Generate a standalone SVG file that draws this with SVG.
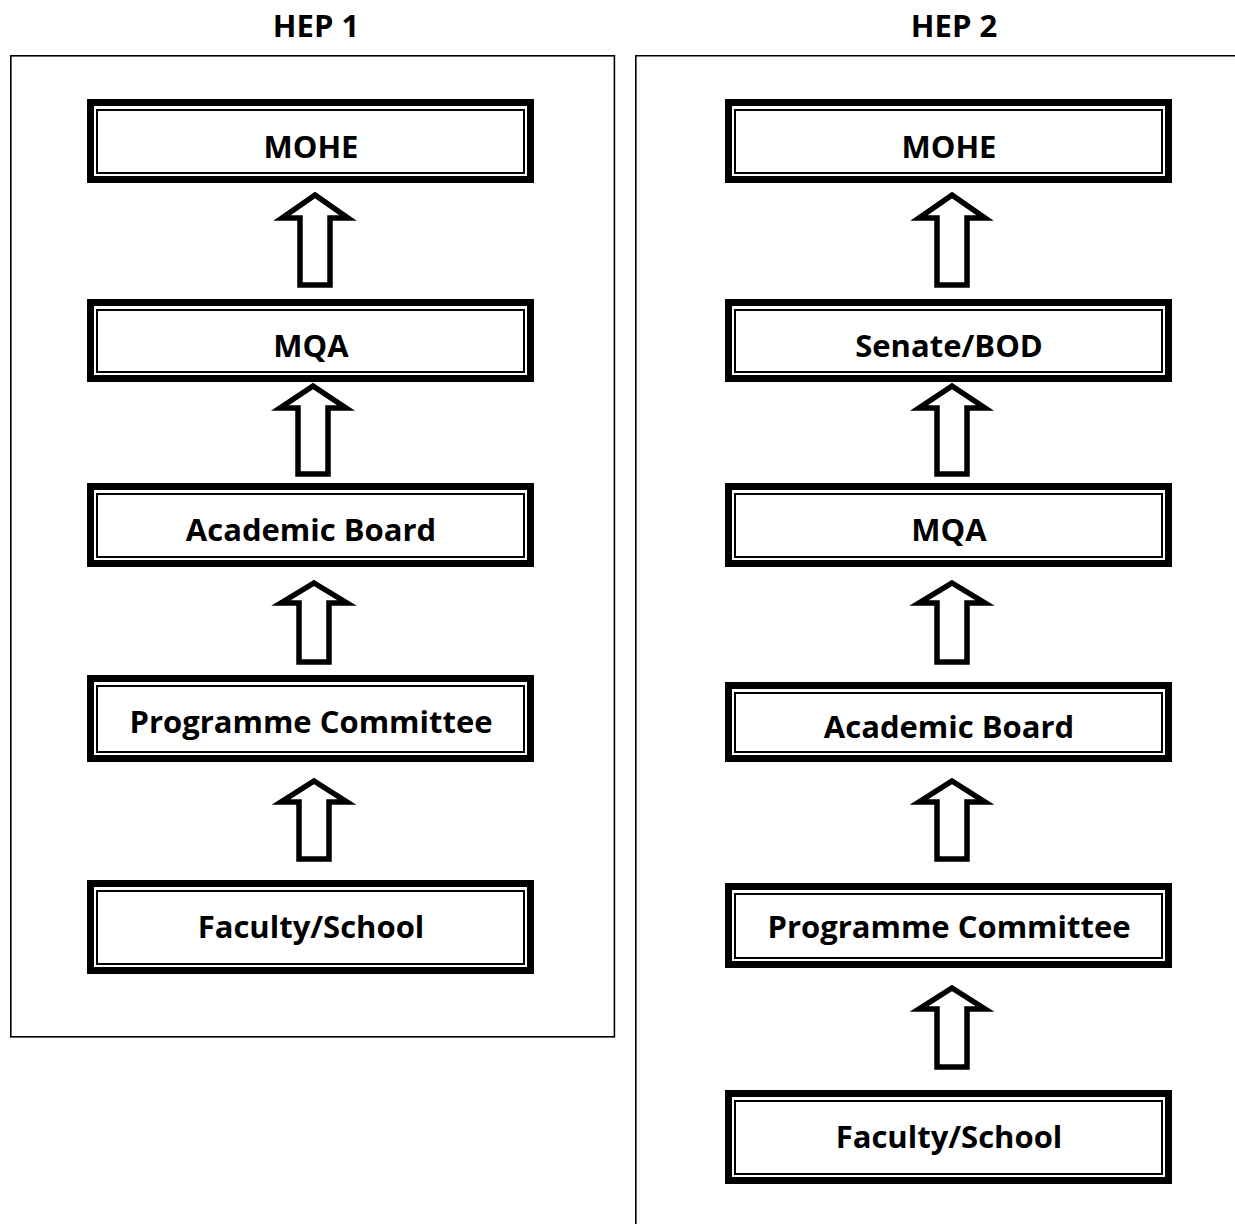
<svg xmlns="http://www.w3.org/2000/svg" width="1235" height="1224" viewBox="0 0 1235 1224">
<style>
.bg{fill:#fff}
.panel{fill:none;stroke:#000;stroke-width:1.6}
.outer{fill:#fff;stroke:#000;stroke-width:7}
.inner{fill:none;stroke:#000;stroke-width:2}
.lbl{font-family:"Open Sans","Liberation Sans",sans-serif;font-weight:700;font-size:31px;fill:#000;text-anchor:middle}
.arrow{fill:#fff;stroke:#000;stroke-width:5.5;stroke-linejoin:miter}
</style>
<rect class="bg" x="0" y="0" width="1235" height="1224"/>
<g id="panels">
<rect class="panel" x="10.8" y="55.8" width="603.6" height="981"/>
<path class="panel" d="M1235 55.8 H635.8 V1224"/>
<text class="lbl" x="316" y="37">HEP 1</text>
<text class="lbl" x="954" y="37">HEP 2</text>
</g>
<g id="hep1-mohe"><rect class="outer" x="90.5" y="102.5" width="440" height="77"/><rect class="inner" x="97" y="110" width="427" height="63"/><text class="lbl" x="311" y="158">MOHE</text></g>
<g id="hep1-mqa"><rect class="outer" x="90.5" y="302.5" width="440" height="76"/><rect class="inner" x="97" y="310" width="427" height="62"/><text class="lbl" x="311" y="357">MQA</text></g>
<g id="hep1-ab"><rect class="outer" x="90.5" y="486.5" width="440" height="77"/><rect class="inner" x="97" y="494" width="427" height="63"/><text class="lbl" x="311" y="541">Academic Board</text></g>
<g id="hep1-pc"><rect class="outer" x="90.5" y="678.5" width="440" height="80"/><rect class="inner" x="97" y="686" width="427" height="66"/><text class="lbl" x="311" y="733">Programme Committee</text></g>
<g id="hep1-fs"><rect class="outer" x="90.5" y="883.5" width="440" height="87"/><rect class="inner" x="97" y="891" width="427" height="73"/><text class="lbl" x="311" y="938">Faculty/School</text></g>
<g id="hep2-mohe"><rect class="outer" x="728.5" y="102.5" width="440" height="77"/><rect class="inner" x="735" y="110" width="427" height="63"/><text class="lbl" x="949" y="158">MOHE</text></g>
<g id="hep2-senate"><rect class="outer" x="728.5" y="302.5" width="440" height="76"/><rect class="inner" x="735" y="310" width="427" height="62"/><text class="lbl" x="949" y="357">Senate/BOD</text></g>
<g id="hep2-mqa"><rect class="outer" x="728.5" y="486.5" width="440" height="77"/><rect class="inner" x="735" y="494" width="427" height="63"/><text class="lbl" x="949" y="541">MQA</text></g>
<g id="hep2-ab"><rect class="outer" x="728.5" y="685.5" width="440" height="73"/><rect class="inner" x="735" y="693" width="427" height="59"/><text class="lbl" x="949" y="738">Academic Board</text></g>
<g id="hep2-pc"><rect class="outer" x="728.5" y="886.5" width="440" height="78"/><rect class="inner" x="735" y="894" width="427" height="64"/><text class="lbl" x="949" y="938">Programme Committee</text></g>
<g id="hep2-fs"><rect class="outer" x="728.5" y="1093.5" width="440" height="87"/><rect class="inner" x="735" y="1101" width="427" height="73"/><text class="lbl" x="949" y="1148">Faculty/School</text></g>
<g id="connectors">
<polygon class="arrow" points="315,195 348,218 330,218 330,285 300,285 300,218 282,218"/>
<polygon class="arrow" points="313,386 346,408 328,408 328,474 298,474 298,408 280,408"/>
<polygon class="arrow" points="314,583 347,603 329,603 329,662 299,662 299,603 281,603"/>
<polygon class="arrow" points="314,781 347,802 329,802 329,859 299,859 299,802 281,802"/>
<polygon class="arrow" points="952,195 985,218 967,218 967,285 937,285 937,218 919,218"/>
<polygon class="arrow" points="952,386 985,408 967,408 967,474 937,474 937,408 919,408"/>
<polygon class="arrow" points="952,583 985,603 967,603 967,662 937,662 937,603 919,603"/>
<polygon class="arrow" points="952,781 985,802 967,802 967,859 937,859 937,802 919,802"/>
<polygon class="arrow" points="952,988 985,1009 967,1009 967,1067 937,1067 937,1009 919,1009"/>
</g>
</svg>
